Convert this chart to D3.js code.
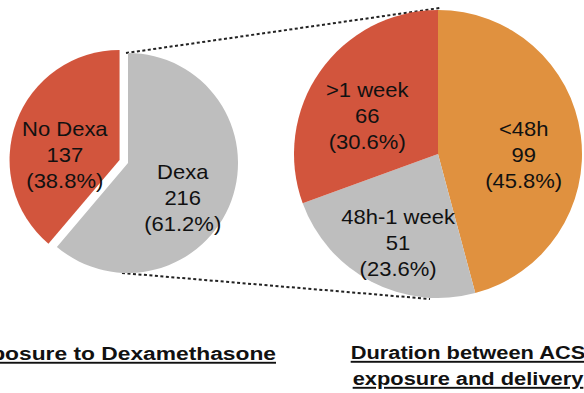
<!DOCTYPE html>
<html>
<head>
<meta charset="utf-8">
<script src="https://cdn.jsdelivr.net/npm/d3@7"></script>
<style>
  body { margin: 0; background: #fff; }
  svg { display: block; font-family: "Liberation Sans", Arial, Helvetica, sans-serif; }
</style>
</head>
<body>
<script>
// left pie: exposure to dexamethasone
var dexaLabels = ["Dexa", "No Dexa"];
var dexaCounts = [216, 137];
var dexaColors = ["#bebebe", "#d2553d"];

// right pie: duration between ACS exposure and delivery
var durLabels = ["<48h", "48h-1 week", ">1 week"];
var durCounts = [99, 51, 66];
var durColors = ["#e0913f", "#bebebe", "#d2553d"];

var titleLeft = "Exposure to Dexamethasone";
var titleRight = ["Duration between ACS", "exposure and delivery"];

var width = 584, height = 393;

var svg = d3.select("body").append("svg")
    .attr("width", width)
    .attr("height", height);

var left = {cx: 128, cy: 163, r: 110};
var right = {cx: 438, cy: 154, r: 144};

// dashed connector lines (drawn first, under pies)
svg.append("line")
    .attr("x1", left.cx - 2).attr("y1", left.cy - left.r)
    .attr("x2", right.cx + 2).attr("y2", right.cy - right.r - 2)
    .attr("stroke", "#222").attr("stroke-width", 2)
    .attr("stroke-dasharray", "3,2.5");
svg.append("line")
    .attr("x1", left.cx - 6).attr("y1", left.cy + left.r)
    .attr("x2", right.cx - 8).attr("y2", right.cy + right.r + 1)
    .attr("stroke", "#222").attr("stroke-width", 2)
    .attr("stroke-dasharray", "3,2.5");

function drawPie(counts, labels, colors, geo, labelFactor, dy, explodeIdx) {
    var total = d3.sum(counts);
    var pie = d3.pie().sort(null)(counts);
    var arc = d3.arc().innerRadius(0).outerRadius(geo.r);
    var labelArc = d3.arc().innerRadius(geo.r * labelFactor).outerRadius(geo.r * labelFactor);

    var g = svg.append("g").attr("transform", "translate(" + geo.cx + "," + geo.cy + ")");

    var slices = g.selectAll(".slice")
        .data(pie)
        .enter()
        .append("g")
        .attr("class", "slice")
        .attr("transform", function (d, i) {
            if (i !== explodeIdx) return null;
            var a = (d.startAngle + d.endAngle) / 2;
            return "translate(" + (Math.sin(a) * 9) + "," + (-Math.cos(a) * 9) + ")";
        });

    slices.append("path")
        .attr("d", arc)
        .attr("fill", function (d, i) { return colors[i]; });

    slices.append("text")
        .attr("transform", function (d) {
            var c = labelArc.centroid(d);
            return "translate(" + c[0] + "," + (c[1] + dy) + ") scale(1.1,1)";
        })
        .attr("text-anchor", "middle")
        .attr("font-size", "20px")
        .attr("fill", "#111")
        .selectAll("tspan")
        .data(function (d, i) {
            var pct = (d.value / total * 100).toFixed(1) + "%";
            return [labels[i], String(d.value), "(" + pct + ")"];
        })
        .enter()
        .append("tspan")
        .attr("x", 0)
        .attr("y", function (t, j) { return (j - 1) * 26; })
        .text(function (t) { return t; });
}

drawPie(dexaCounts, dexaLabels, dexaColors, left, 0.53, 22, 1);
drawPie(durCounts, durLabels, durColors, right, 0.6, 19, -1);

// titles
svg.append("text")
    .attr("transform", "translate(276,360) scale(1.2,1)")
    .attr("text-anchor", "end")
    .attr("font-size", "19px")
    .attr("font-weight", "bold")
    .attr("text-decoration", "underline")
    .attr("fill", "#111")
    .text(titleLeft);

svg.selectAll(".rtitle")
    .data(titleRight)
    .enter()
    .append("text")
    .attr("class", "rtitle")
    .attr("transform", function (d, i) { return "translate(468," + (359 + i * 26) + ") scale(1.15,1)"; })
    .attr("text-anchor", "middle")
    .attr("font-size", "19px")
    .attr("font-weight", "bold")
    .attr("text-decoration", "underline")
    .attr("fill", "#111")
    .text(function (d) { return d; });
</script>
</body>
</html>
